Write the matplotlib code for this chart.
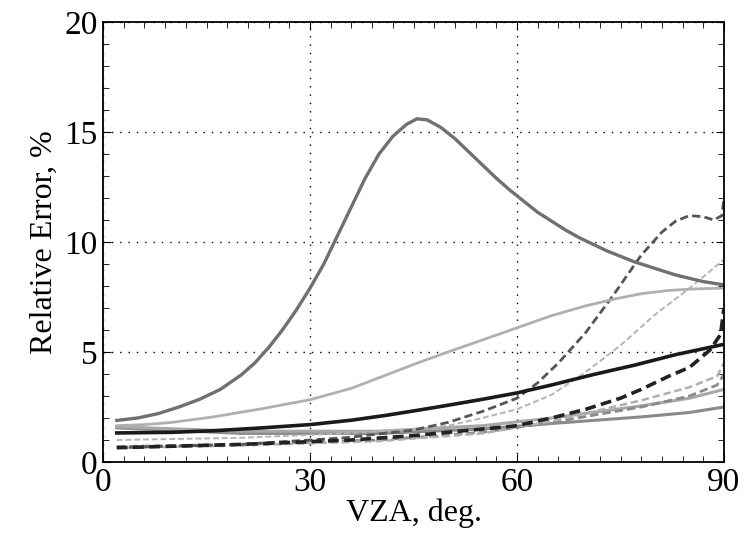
import matplotlib
matplotlib.use("Agg")
import matplotlib.pyplot as plt
from matplotlib.ticker import MultipleLocator

plt.rcParams['font.family'] = ['Liberation Serif', 'DejaVu Serif']

# peak curve (medium gray, solid)
a_x = [2, 5, 8, 11, 14, 17, 20, 22, 24, 26, 28, 30, 32, 34, 36, 38, 40, 42, 44, 45.5, 47, 49, 51, 53, 55,
       57, 59, 61, 63, 65, 67, 69, 71, 73, 75, 77, 79, 81, 83, 85, 87, 90]
a_y = [1.89, 2.0, 2.2, 2.5, 2.85, 3.3, 3.95, 4.5, 5.2, 6.0, 6.9, 7.9, 9.0, 10.3, 11.6, 12.9, 14.0, 14.8,
       15.35, 15.6, 15.55, 15.2, 14.7, 14.1, 13.5, 12.9, 12.35, 11.85, 11.35, 10.95, 10.55, 10.2, 9.9, 9.6,
       9.35, 9.1, 8.9, 8.7, 8.5, 8.35, 8.2, 8.05]

# light gray solid, rising to ~8
b_x = [2, 6, 10, 16, 23, 30, 36, 41, 46, 50, 55, 60, 65, 70, 74, 78, 82, 86, 90]
b_y = [1.65, 1.7, 1.8, 2.05, 2.42, 2.83, 3.35, 3.95, 4.55, 5.0, 5.55, 6.1, 6.65, 7.1, 7.4, 7.65, 7.8, 7.87, 7.9]

# black solid
c_x = [2, 10, 16, 23, 30, 36, 41, 46, 50, 55, 60, 65, 71, 77, 83, 90]
c_y = [1.32, 1.35, 1.42, 1.55, 1.7, 1.9, 2.12, 2.37, 2.58, 2.85, 3.14, 3.5, 3.97, 4.4, 4.88, 5.35]

# dark gray dashed, peak ~11
d_x = [2, 20, 35, 45, 50, 55, 60, 63, 66, 70, 74, 78, 81, 83, 85, 87, 88.5, 89.7, 90]
d_y = [0.65, 0.8, 1.1, 1.45, 1.8, 2.3, 2.9, 3.6, 4.5, 5.9, 7.6, 9.4, 10.45, 10.95, 11.2, 11.15, 11.0, 11.2, 12.0]

# light gray dashed, rising to ~9
e_x = [2, 20, 35, 45, 50, 55, 60, 65, 70, 75, 80, 85, 90]
e_y = [1.0, 1.1, 1.3, 1.5, 1.65, 2.0, 2.4, 3.05, 4.1, 5.3, 6.7, 7.9, 9.2]

# black dashed
f_x = [2, 20, 36, 45, 50, 60, 65, 70, 75, 78, 82, 85, 88, 89.5, 90]
f_y = [0.65, 0.8, 1.0, 1.2, 1.35, 1.65, 2.0, 2.4, 2.9, 3.3, 3.9, 4.3, 5.1, 5.8, 7.0]

# lower cluster
g_x = [2, 20, 40, 55, 65, 78, 85, 90]
g_y = [1.55, 1.3, 1.3, 1.5, 1.75, 2.05, 2.25, 2.5]
j_x = [2, 20, 40, 55, 65, 78, 85, 90]
j_y = [1.6, 1.4, 1.4, 1.65, 2.0, 2.55, 2.9, 3.3]
h_x = [2, 20, 40, 55, 65, 78, 85, 89, 90]
h_y = [0.7, 0.8, 1.0, 1.35, 1.8, 2.5, 3.0, 3.5, 4.0]
i_x = [2, 20, 40, 55, 65, 78, 85, 89, 90]
i_y = [0.65, 0.75, 0.95, 1.3, 1.85, 2.8, 3.4, 3.9, 4.5]

fig = plt.figure(figsize=(7.48, 5.52), dpi=100)
ax = fig.add_axes([103 / 748, 1 - 462 / 552, (724 - 103) / 748, 440 / 552])

dash = (0, (3, 1.5))
ax.plot(g_x, g_y, color='#8a8a8a', lw=2.2, ls='-')
ax.plot(j_x, j_y, color='#a8a8a8', lw=2.2, ls='-')
ax.plot(h_x, h_y, color='#8a8a8a', lw=2.0, ls=dash)
ax.plot(i_x, i_y, color='#b0b0b0', lw=1.8, ls=dash)
ax.plot(e_x, e_y, color='#b4b4b4', lw=1.4, ls=dash)
ax.plot(d_x, d_y, color='#555555', lw=2.0, ls=dash)
ax.plot(f_x, f_y, color='#222222', lw=2.6, ls=dash)
ax.plot(b_x, b_y, color='#b0b0b0', lw=2.0, ls='-')
ax.plot(c_x, c_y, color='#1a1a1a', lw=2.6, ls='-')
ax.plot(a_x, a_y, color='#707070', lw=2.4, ls='-')

ax.set_xlim(0, 90)
ax.set_ylim(0, 20)
ax.xaxis.set_major_locator(MultipleLocator(30))
ax.xaxis.set_minor_locator(MultipleLocator(3))
ax.yaxis.set_major_locator(MultipleLocator(5))
ax.yaxis.set_minor_locator(MultipleLocator(1))
ax.tick_params(which='both', direction='in', top=True, right=True, labelsize=24, pad=4)
ax.tick_params(which='major', length=6)
ax.tick_params(which='minor', length=4)
ax.grid(True, which='major', color='black', ls=(0, (1, 5)), lw=1.0)

for s in ax.spines.values():
    s.set_linewidth(1.3)

ax.set_xlabel('VZA, deg.', fontsize=23, labelpad=0)
ax.set_ylabel('Relative Error, %', fontsize=23, labelpad=4)

fig.savefig('out.png', dpi=100)
